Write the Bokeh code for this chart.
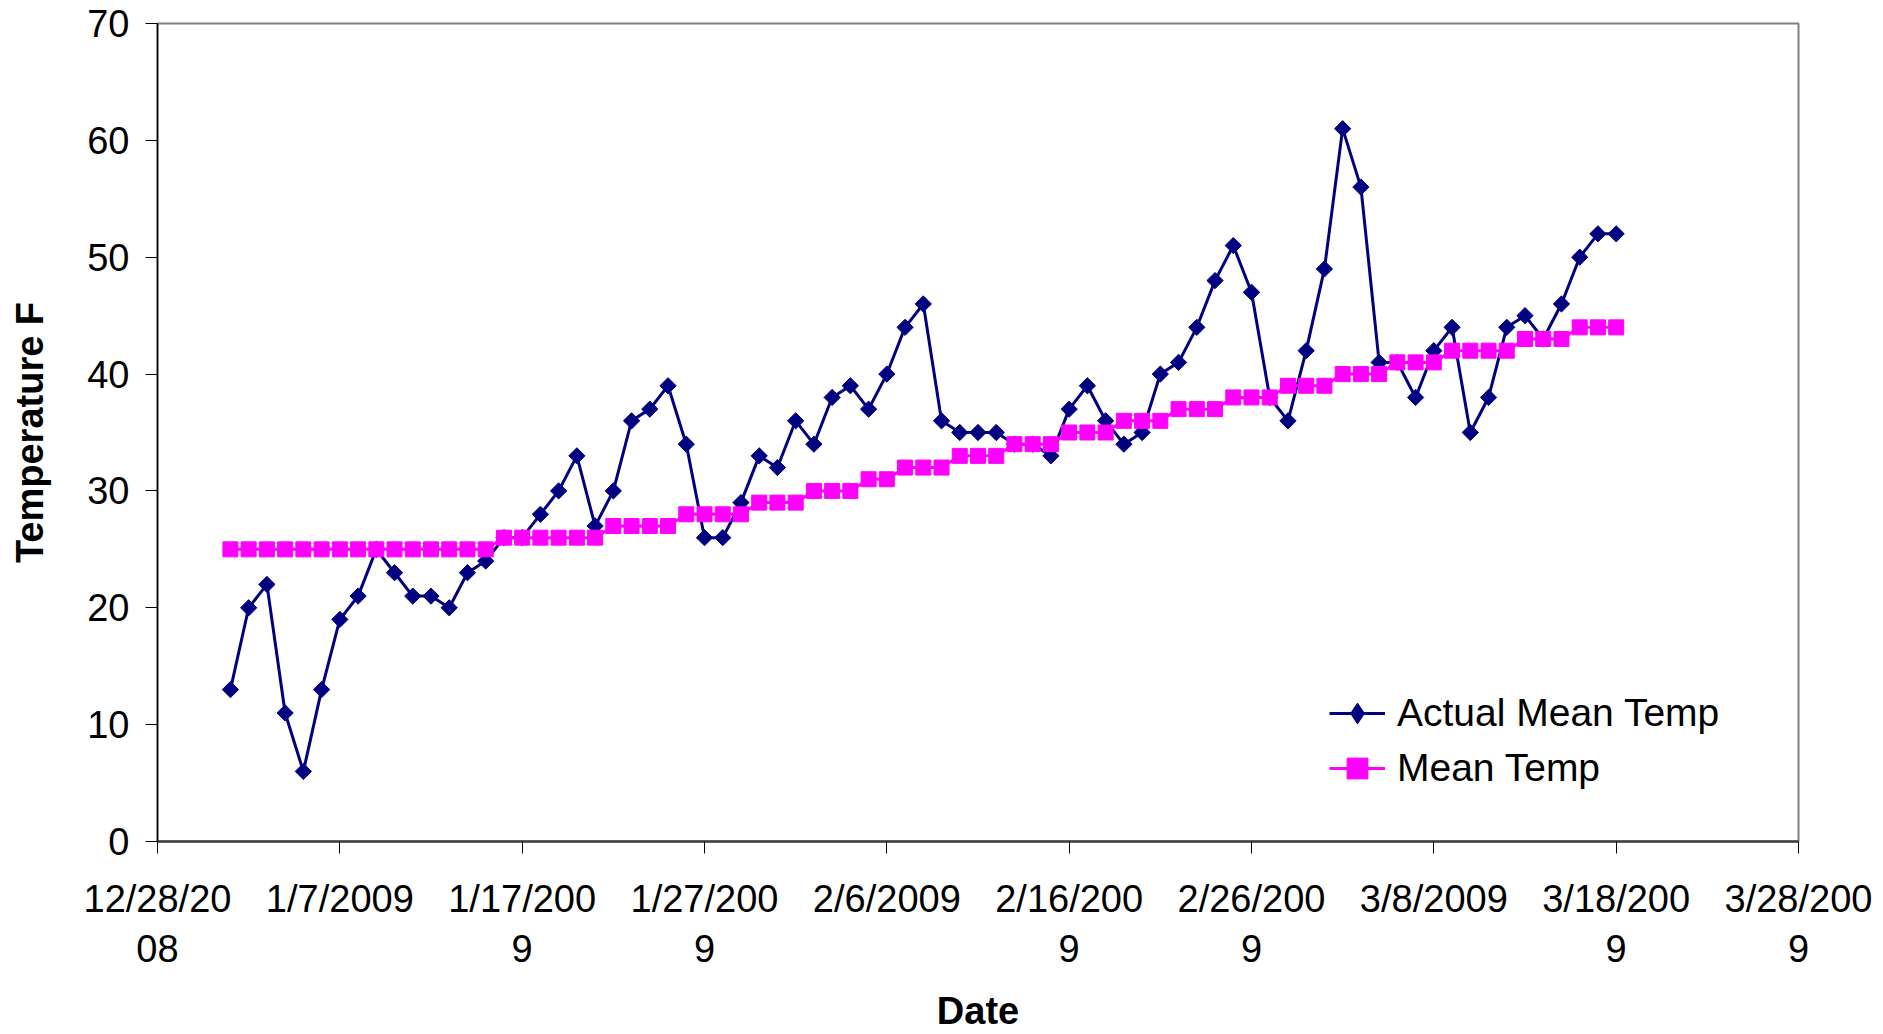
import numpy as np
import pandas as pd
from datetime import datetime
from bokeh.plotting import figure
from bokeh.models import Range1d, FixedTicker, CustomJSTickFormatter, Legend
from bokeh.embed import file_html
from bokeh.resources import INLINE

# ---- data ----
dates = pd.date_range("2009-01-01", "2009-03-18", freq="D")

actual_mean_temp = [
    13, 20, 22, 11, 6, 13, 19, 21, 25, 23, 21, 21, 20, 23, 24,   # 1/1 - 1/15
    26, 26, 28, 30, 33, 27, 30, 36, 37, 39, 34, 26, 26, 29, 33, 32,  # 1/16 - 1/31
    36, 34, 38, 39, 37, 40, 44, 46, 36, 35, 35, 35, 34, 34, 33, 37,  # 2/1 - 2/16
    39, 36, 34, 35, 40, 41, 44, 48, 51, 47, 38, 36,               # 2/17 - 2/28
    42, 49, 61, 56, 41, 41, 38, 42, 44, 35, 38, 44, 45, 43, 46, 50, 52, 52,  # 3/1 - 3/18
]

mean_temp = [
    25, 25, 25, 25, 25, 25, 25, 25, 25, 25, 25, 25, 25, 25, 25,   # 1/1 - 1/15
    26, 26, 26, 26, 26, 26, 27, 27, 27, 27, 28, 28, 28, 28, 29, 29,  # 1/16 - 1/31
    29, 30, 30, 30, 31, 31, 32, 32, 32, 33, 33, 33, 34, 34, 34, 35,  # 2/1 - 2/16
    35, 35, 36, 36, 36, 37, 37, 37, 38, 38, 38, 39,               # 2/17 - 2/28
    39, 39, 40, 40, 40, 41, 41, 41, 42, 42, 42, 42, 43, 43, 43, 44, 44, 44,  # 3/1 - 3/18
]

x_start = datetime(2008, 12, 28)
x_end = datetime(2009, 3, 28)
x_tick_dates = pd.date_range(x_start, x_end, freq="10D")
y_ticks = [0, 10, 20, 30, 40, 50, 60, 70]

NAVY = "#000080"
MAGENTA = "#FF00FF"
FONT = "Liberation Sans"

p = figure(
    width=1883, height=1034,
    x_axis_type="datetime",
    x_range=Range1d(x_start, x_end),
    y_range=Range1d(0, 70),
    output_backend="svg", toolbar_location=None,
    min_border_left=157, min_border_right=85,
    min_border_top=23, min_border_bottom=191,
)
p.background_fill_color = "white"
p.border_fill_color = "white"
p.outline_line_color = "#808080"
p.outline_line_width = 2
p.xgrid.visible = False
p.ygrid.visible = False

# axes
p.yaxis.ticker = FixedTicker(ticks=y_ticks)
p.xaxis.ticker = FixedTicker(ticks=[d.timestamp() * 1000 for d in x_tick_dates])
p.xaxis.formatter = CustomJSTickFormatter(code="""
    const d = new Date(tick);
    const s = (d.getUTCMonth() + 1) + "/" + d.getUTCDate() + "/" + d.getUTCFullYear();
    return s.length > 8 ? s.slice(0, 8) + "\\n" + s.slice(8) : s;
""")

for ax in (p.xaxis[0], p.yaxis[0]):
    ax.major_label_text_font = FONT
    ax.major_label_text_font_size = "38px"
    ax.major_label_text_color = "black"
    ax.axis_label_text_font = FONT
    ax.axis_label_text_font_style = "bold"
    ax.axis_label_text_color = "black"
    ax.axis_label_text_font_size = "38px"
    ax.minor_tick_line_color = None
    ax.major_tick_in = 0
    ax.major_tick_out = 12
    ax.major_tick_line_color = "black"
    ax.major_tick_line_width = 1

p.yaxis.axis_label = "Temperature F"
p.yaxis.axis_line_color = "black"
p.yaxis.axis_line_width = 1.5
p.yaxis.major_label_standoff = 16
p.yaxis.axis_label_standoff = 33

p.xaxis.axis_label = "Date"
p.xaxis.axis_line_color = "#404040"
p.xaxis.axis_line_width = 2.5
p.xaxis.major_label_standoff = 24
p.xaxis.axis_label_standoff = 17
p.xaxis.axis_label_text_line_height = 1.0

# series
r1 = p.line(dates, actual_mean_temp, line_color=NAVY, line_width=3)
r2 = p.scatter(dates, actual_mean_temp, marker="square", angle=np.pi / 4,
               size=11.5, fill_color=NAVY, line_color=NAVY)
r3 = p.line(dates, mean_temp, line_color=MAGENTA, line_width=3)
r4 = p.scatter(dates, mean_temp, marker="square", size=15,
               fill_color=MAGENTA, line_color=MAGENTA)

# legend-only diamond icon (a single undrawn NaN point)
r_leg = p.scatter(x=dates[:1], y=[np.nan], marker="diamond", size=17,
                  fill_color=NAVY, line_color=NAVY)

legend = Legend(
    items=[("Actual Mean Temp", [r1, r_leg]), ("Mean Temp", [r3, r4])],
    location=(1172, 47),
    border_line_color=None,
    background_fill_alpha=0,
    label_text_font=FONT,
    label_text_font_size="39px",
    label_text_color="black",
    glyph_width=56, glyph_height=52, label_height=52,
    label_standoff=12, spacing=3, padding=0, margin=0,
)
p.add_layout(legend, "center")

open("out.html", "w").write(file_html(p, INLINE))
